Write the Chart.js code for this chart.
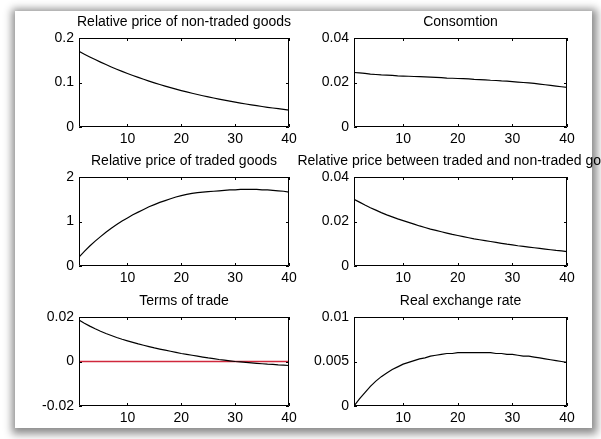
<!DOCTYPE html>
<html>
<head>
<meta charset="utf-8">
<script src="https://cdn.jsdelivr.net/npm/chart.js@4.4.1/dist/chart.umd.min.js"></script>
<style>
  html, body { margin: 0; padding: 0; background: #ffffff; overflow: hidden; }
  body { width: 601px; height: 439px; position: relative; }
  #card { position: absolute; left: 15px; top: 11px; width: 577px; height: 417px;
          background: #ffffff; box-shadow: 1px 2px 8px 4px rgba(0,0,0,0.45); }
  canvas { position: absolute; }
</style>
</head>
<body>
<div id="card"></div>
<canvas id="c1"></canvas>
<canvas id="c2"></canvas>
<canvas id="c3"></canvas>
<canvas id="c4"></canvas>
<canvas id="c5"></canvas>
<canvas id="c6"></canvas>
<script>
// ---------------- DATA ----------------
const periods = [1,2,3,4,5,6,7,8,9,10,11,12,13,14,15,16,17,18,19,20,
                 21,22,23,24,25,26,27,28,29,30,31,32,33,34,35,36,37,38,39,40];
const xTickValues = [10, 20, 30, 40];
const xTickLabels = ['10', '20', '30', '40'];

const titles = [
  'Relative price of non-traded goods',
  'Consomtion',
  'Relative price of traded goods',
  'Relative price between traded and non-traded goods',
  'Terms of trade',
  'Real exchange rate'
];

const nonTradedPrice = [0.1700,0.1636,0.1574,0.1515,0.1458,0.1403,0.1350,0.1299,0.1250,0.1203,
                        0.1158,0.1114,0.1072,0.1032,0.0993,0.0955,0.0919,0.0885,0.0851,0.0819,
                        0.0788,0.0759,0.0730,0.0703,0.0676,0.0651,0.0626,0.0603,0.0580,0.0558,
                        0.0537,0.0517,0.0497,0.0479,0.0461,0.0443,0.0427,0.0411,0.0395,0.0380];
const consumption = [0.0245,0.0243,0.0241,0.0238,0.0236,0.0234,0.0233,0.0232,0.0230,0.0229,
                     0.0228,0.0227,0.0226,0.0225,0.0224,0.0223,0.0222,0.0220,0.0219,0.0218,
                     0.0217,0.0216,0.0214,0.0213,0.0212,0.0210,0.0209,0.0207,0.0206,0.0204,
                     0.0202,0.0200,0.0198,0.0196,0.0193,0.0190,0.0187,0.0184,0.0181,0.0178];
const tradedPrice = [0.20,0.33,0.45,0.56,0.66,0.76,0.85,0.93,1.01,1.08,
                     1.15,1.21,1.27,1.33,1.38,1.43,1.47,1.51,1.55,1.58,
                     1.61,1.63,1.65,1.66,1.67,1.68,1.69,1.70,1.71,1.71,
                     1.72,1.72,1.72,1.72,1.71,1.71,1.70,1.69,1.68,1.66];
const relativeTradedNonTraded = [0.0300,0.0287,0.0274,0.0262,0.0251,0.0240,0.0230,0.0221,0.0212,0.0204,
                                 0.0196,0.0188,0.0180,0.0173,0.0166,0.0160,0.0154,0.0148,0.0142,0.0137,
                                 0.0132,0.0127,0.0122,0.0118,0.0114,0.0110,0.0106,0.0102,0.0098,0.0095,
                                 0.0091,0.0088,0.0085,0.0082,0.0079,0.0076,0.0073,0.0070,0.0068,0.0065];
const termsOfTrade = [0.0186,0.0172,0.0159,0.0147,0.0136,0.0126,0.0117,0.0108,0.0100,0.0093,
                      0.0086,0.0079,0.0073,0.0067,0.0061,0.0056,0.0051,0.0046,0.0041,0.0036,
                      0.0032,0.0028,0.0024,0.0020,0.0016,0.0013,0.0009,0.0006,0.0003,0.0000,
                      -0.0002,-0.0004,-0.0006,-0.0008,-0.0010,-0.0012,-0.0013,-0.0015,-0.0016,-0.0018];
const zeroLine = [0,0,0,0,0,0,0,0,0,0,0,0,0,0,0,0,0,0,0,0,
                  0,0,0,0,0,0,0,0,0,0,0,0,0,0,0,0,0,0,0,0];
const realExchangeRate = [0.0000,0.0008,0.0015,0.0022,0.0028,0.0033,0.0037,0.0041,0.0044,0.0047,
                          0.0049,0.0051,0.0053,0.0054,0.0056,0.0057,0.0058,0.0059,0.0059,0.0060,
                          0.0060,0.0060,0.0060,0.0060,0.0060,0.0060,0.0059,0.0059,0.0058,0.0058,
                          0.0057,0.0056,0.0056,0.0055,0.0054,0.0053,0.0052,0.0051,0.0050,0.0049];

const yTicks1 = [0, 0.1, 0.2];        const yLabels1 = ['0', '0.1', '0.2'];
const yTicks2 = [0, 0.02, 0.04];      const yLabels2 = ['0', '0.02', '0.04'];
const yTicks3 = [0, 1, 2];            const yLabels3 = ['0', '1', '2'];
const yTicks4 = [0, 0.02, 0.04];      const yLabels4 = ['0', '0.02', '0.04'];
const yTicks5 = [-0.02, 0, 0.02];     const yLabels5 = ['-0.02', '0', '0.02'];
const yTicks6 = [0, 0.005, 0.01];     const yLabels6 = ['0', '0.005', '0.01'];

// ---------------- LAYOUT ----------------
const Y_AXIS_W = 70, PAD_TOP = 30, X_AXIS_H = 25, PAD_R = 40;
const COL_LEFT = [79, 354], COL_W = [210, 213];
const ROW_TOP = [38, 177, 317], BOX_H = 89;
const FONT = '"Liberation Sans", Arial, sans-serif';

Chart.defaults.font.family = FONT;
Chart.defaults.font.size = 14;
Chart.defaults.color = '#000';

const boxPlugin = {
  id: 'matlabBox',
  afterDraw(chart, args, opts) {
    const { ctx, chartArea: a, scales } = chart;
    ctx.save();
    ctx.strokeStyle = '#000';
    ctx.lineWidth = 1;
    ctx.beginPath();
    ctx.rect(a.left + 0.5, a.top + 0.5, a.right - a.left - 1, a.bottom - a.top - 1);
    ctx.stroke();
    // inward ticks
    const tl = 3;
    ctx.beginPath();
    scales.x.ticks.forEach(t => {
      const px = Math.round(scales.x.getPixelForValue(t.value)) + 0.5;
      ctx.moveTo(px, a.bottom); ctx.lineTo(px, a.bottom - tl);
      ctx.moveTo(px, a.top); ctx.lineTo(px, a.top + tl);
    });
    scales.y.ticks.forEach(t => {
      const py = Math.round(scales.y.getPixelForValue(t.value)) + 0.5;
      ctx.moveTo(a.left, py); ctx.lineTo(a.left + tl, py);
      ctx.moveTo(a.right, py); ctx.lineTo(a.right - tl, py);
    });
    ctx.stroke();
    // title
    ctx.fillStyle = '#000';
    ctx.font = '14px ' + FONT;
    ctx.textAlign = 'center';
    ctx.textBaseline = 'middle';
    ctx.fillText(opts.text, (a.left + a.right) / 2, a.top - 16);
    ctx.restore();
  }
};

function toPoints(vals) {
  return vals.map((v, i) => ({ x: periods[i], y: v }));
}

function makePanel(id, col, row, title, seriesList, yMin, yMax, yTicks, yLabels) {
  const cv = document.getElementById(id);
  const boxW = COL_W[col];
  const w = Y_AXIS_W + boxW + PAD_R;
  const h = PAD_TOP + BOX_H + X_AXIS_H;
  cv.width = w; cv.height = h;
  cv.style.width = w + 'px'; cv.style.height = h + 'px';
  cv.style.left = (COL_LEFT[col] - Y_AXIS_W) + 'px';
  cv.style.top = (ROW_TOP[row] - PAD_TOP) + 'px';

  new Chart(cv, {
    type: 'line',
    data: {
      datasets: seriesList.map(s => ({
        data: toPoints(s.values),
        borderColor: s.color,
        borderWidth: s.width,
        pointRadius: 0,
        tension: 0,
        fill: false
      }))
    },
    options: {
      responsive: false,
      animation: false,
      devicePixelRatio: 1,
      layout: { padding: { top: PAD_TOP, right: PAD_R, bottom: 0, left: 0 } },
      plugins: {
        legend: { display: false },
        title: { display: false },
        tooltip: { enabled: false },
        matlabBox: { text: title }
      },
      scales: {
        x: {
          type: 'linear',
          min: 1, max: 40,
          grid: { display: false, drawTicks: false },
          border: { display: false },
          afterBuildTicks(scale) { scale.ticks = xTickValues.map(v => ({ value: v })); },
          afterFit(scale) { scale.height = X_AXIS_H; },
          ticks: {
            padding: 4,
            maxRotation: 0,
            autoSkip: false,
            callback: (v) => xTickLabels[xTickValues.indexOf(v)]
          }
        },
        y: {
          type: 'linear',
          min: yMin, max: yMax,
          grid: { display: false, drawTicks: false },
          border: { display: false },
          afterBuildTicks(scale) { scale.ticks = yTicks.map(v => ({ value: v })); },
          afterFit(scale) { scale.width = Y_AXIS_W; },
          ticks: {
            padding: 5,
            autoSkip: false,
            callback: (v) => {
              const i = yTicks.findIndex(t => Math.abs(t - v) < 1e-9);
              return i >= 0 ? yLabels[i] : '';
            }
          }
        }
      }
    },
    plugins: [boxPlugin]
  });
}

const K = '#000000', RED = '#d0283c';
makePanel('c1', 0, 0, titles[0], [{ values: nonTradedPrice, color: K, width: 1.2 }], 0, 0.2, yTicks1, yLabels1);
makePanel('c2', 1, 0, titles[1], [{ values: consumption, color: K, width: 1.2 }], 0, 0.04, yTicks2, yLabels2);
makePanel('c3', 0, 1, titles[2], [{ values: tradedPrice, color: K, width: 1.2 }], 0, 2, yTicks3, yLabels3);
makePanel('c4', 1, 1, titles[3], [{ values: relativeTradedNonTraded, color: K, width: 1.2 }], 0, 0.04, yTicks4, yLabels4);
makePanel('c5', 0, 2, titles[4], [{ values: termsOfTrade, color: K, width: 1.2 }, { values: zeroLine, color: RED, width: 1.6 }], -0.02, 0.02, yTicks5, yLabels5);
makePanel('c6', 1, 2, titles[5], [{ values: realExchangeRate, color: K, width: 1.2 }], 0, 0.01, yTicks6, yLabels6);
</script>
</body>
</html>
